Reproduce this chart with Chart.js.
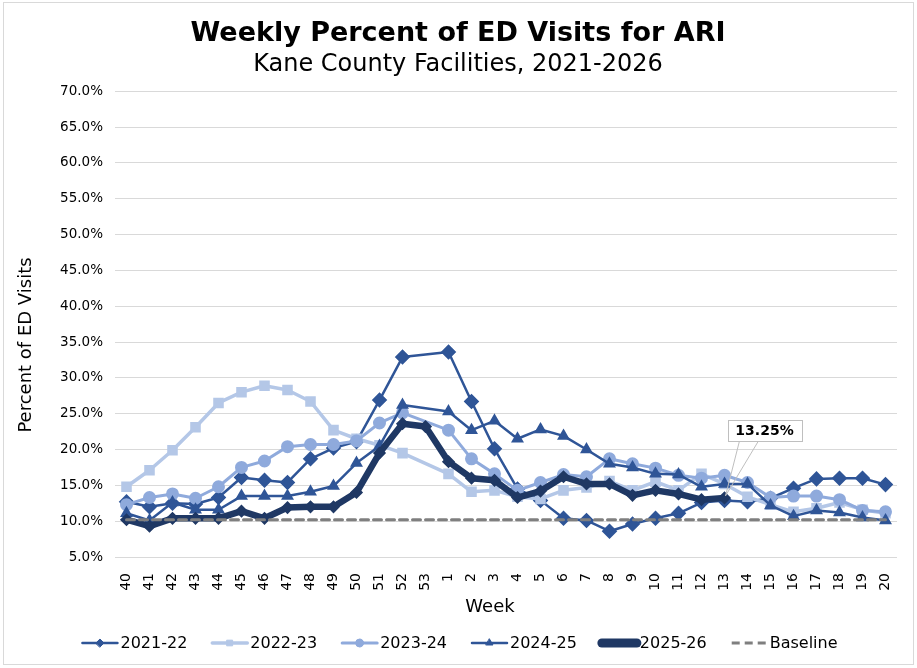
<!DOCTYPE html>
<html>
<head>
<meta charset="utf-8">
<title>Weekly Percent of ED Visits for ARI</title>
<script src="https://cdn.jsdelivr.net/npm/chart.js@4.4.1/dist/chart.umd.min.js"></script>
<style>
  html, body { margin: 0; padding: 0; background: #fff; }
  #wrap { width: 917px; height: 668px; }
</style>
</head>
<body>
<div id="wrap"><canvas id="ariChart" width="917" height="668"></canvas></div>
<script>
// MMWR weeks, season runs week 40 through week 20
const weekLabels = ['40', '41', '42', '43', '44', '45', '46', '47', '48', '49', '50', '51', '52', '53',
  '1', '2', '3', '4', '5', '6', '7', '8', '9', '10', '11', '12', '13', '14', '15', '16', '17', '18', '19', '20'];

const season2122 = [12.7, 12.0, 12.5, 12.4, 13.3, 16.1, 15.7, 15.4, 18.7, 20.2, 21.1, 26.9, 32.9, null,
  33.6, 26.7, 20.1, 14.5, 12.9, 10.4, 10.1, 8.6, 9.6, 10.4, 11.1, 12.6, 12.9, 12.7, 13.2, 14.6, 15.9, 16.0, 16.0, 15.1];
const season2223 = [14.8, 17.1, 19.9, 23.1, 26.5, 28.0, 28.9, 28.3, 26.7, 22.7, 21.5, 20.6, 19.5, null,
  16.6, 14.1, 14.3, 13.4, 13.1, 14.3, 14.7, 15.6, 14.3, 15.5, 14.3, 16.6, 15.2, 13.4, 12.3, 11.3, 11.8, 12.6, 11.6, 11.1];
const season2324 = [12.3, 13.3, 13.8, 13.2, 14.8, 17.5, 18.4, 20.4, 20.7, 20.7, 21.2, 23.7, 25.1, null,
  22.7, 18.7, 16.6, 14.3, 15.4, 16.5, 16.2, 18.7, 18.0, 17.4, 16.4, 16.0, 16.4, 15.4, 13.3, 13.5, 13.5, 13.0, 11.5, 11.3];
const season2425 = [11.1, 10.1, 12.6, 11.6, 11.6, 13.5, 13.5, 13.5, 14.1, 14.9, 18.1, 20.5, 26.2, null,
  25.3, 22.7, 24.0, 21.5, 22.8, 21.9, 20.0, 18.0, 17.5, 16.6, 16.5, 14.8, 15.2, 15.2, 12.2, 10.7, 11.5, 11.2, 10.5, 10.1];
const season2526 = [10.2, 9.3, 10.4, 10.4, 10.4, 11.4, 10.4, 11.9, 12.0, 12.0, 14.0, 19.5, 23.6, 23.2,
  18.3, 16.0, 15.7, 13.3, 14.2, 16.2, 15.2, 15.2, 13.6, 14.3, 13.8, 13.0, 13.25, null, null, null, null, null, null, null];
const baseline = [10.2, 10.2, 10.2, 10.2, 10.2, 10.2, 10.2, 10.2, 10.2, 10.2, 10.2, 10.2, 10.2, 10.2,
  10.2, 10.2, 10.2, 10.2, 10.2, 10.2, 10.2, 10.2, 10.2, 10.2, 10.2, 10.2, 10.2, 10.2, 10.2, 10.2, 10.2, 10.2, 10.2, 10.2];

const yMin = 5;
const yMax = 70;
const yStep = 5;

const FONT = "'DejaVu Sans', Verdana, sans-serif";

// outer frame like the exported Excel chart
const framePlugin = {
  id: 'frame',
  beforeDraw(chart) {
    const ctx = chart.ctx;
    ctx.save();
    ctx.fillStyle = '#fff';
    ctx.fillRect(0, 0, chart.width, chart.height);
    ctx.strokeStyle = '#d9d9d9';
    ctx.lineWidth = 1;
    ctx.strokeRect(3.5, 2.5, chart.width - 7, chart.height - 6);
    ctx.restore();
  }
};

// axis titles drawn by hand so they sit where Excel put them
const axisTitlePlugin = {
  id: 'axisTitles',
  afterDraw(chart) {
    const ctx = chart.ctx;
    ctx.save();
    ctx.fillStyle = '#000';
    ctx.font = '18px ' + FONT;
    ctx.textAlign = 'center';
    ctx.textBaseline = 'middle';
    ctx.fillText('Week', 490, 607);
    ctx.translate(26, 345);
    ctx.rotate(-Math.PI / 2);
    ctx.fillText('Percent of ED Visits', 0, 0);
    ctx.restore();
  }
};

// bottom legend: line + marker + label
const lineLegendPlugin = {
  id: 'lineLegend',
  afterDraw(chart) {
    const ctx = chart.ctx;
    const sets = chart.data.datasets;
    const lineLen = 35, textGap = 3, itemGap = 25, y = 643;
    ctx.save();
    ctx.font = '16px ' + FONT;
    ctx.textBaseline = 'middle';
    const widths = sets.map(ds => lineLen + textGap + ctx.measureText(ds.label).width);
    const total = widths.reduce((a, b) => a + b, 0) + itemGap * (sets.length - 1);
    let x = 460 - total / 2;
    sets.forEach((ds, i) => {
      ctx.strokeStyle = ds.borderColor;
      ctx.lineWidth = ds.legendLineWidth || ds.borderWidth;
      ctx.setLineDash(ds.borderDash || []);
      ctx.lineCap = ds.borderDash ? 'butt' : 'round';
      ctx.beginPath();
      ctx.moveTo(x, y);
      ctx.lineTo(x + lineLen, y);
      ctx.stroke();
      ctx.setLineDash([]);
      if (ds.pointRadius > 0) {
        ctx.fillStyle = ds.pointBackgroundColor;
        ctx.strokeStyle = ds.pointBorderColor;
        ctx.lineWidth = 1;
        Chart.helpers.drawPoint(ctx, { pointStyle: ds.pointStyle, radius: ds.legendPointRadius || 4, rotation: 0, borderWidth: 1 }, x + lineLen / 2, y);
      }
      ctx.fillStyle = '#000';
      ctx.textAlign = 'left';
      ctx.fillText(ds.label, x + lineLen + textGap, y + 1);
      x += widths[i] + itemGap;
    });
    ctx.restore();
  }
};

// callout box on the latest 2025-26 value
const calloutPlugin = {
  id: 'callout',
  afterDatasetsDraw(chart) {
    const dsIndex = chart.data.datasets.findIndex(ds => ds.label === '2025-26');
    const values = chart.data.datasets[dsIndex].data;
    let last = values.length - 1;
    while (last >= 0 && values[last] == null) last--;
    const pt = chart.getDatasetMeta(dsIndex).data[last];
    const text = values[last].toFixed(2) + '%';
    const ctx = chart.ctx;
    const boxL = pt.x + 3, boxT = pt.y - 78, boxW = 74, boxH = 21;
    ctx.save();
    ctx.strokeStyle = '#bfbfbf';
    ctx.lineWidth = 1;
    ctx.beginPath();
    ctx.moveTo(boxL + 12, boxT + boxH);
    ctx.lineTo(pt.x + 1, pt.y - 2);
    ctx.lineTo(boxL + 31, boxT + boxH);
    ctx.stroke();
    ctx.fillStyle = '#fff';
    ctx.fillRect(boxL, boxT, boxW, boxH);
    ctx.strokeRect(Math.round(boxL) + 0.5, Math.round(boxT) + 0.5, boxW, boxH);
    ctx.fillStyle = '#000';
    ctx.font = 'bold 14px ' + FONT;
    ctx.textAlign = 'center';
    ctx.textBaseline = 'middle';
    ctx.fillText(text, boxL + boxW / 2, boxT + boxH / 2 + 1);
    ctx.restore();
  }
};

const ctx = document.getElementById('ariChart').getContext('2d');

new Chart(ctx, {
  type: 'line',
  data: {
    labels: weekLabels,
    datasets: [
      {
        label: '2021-22', data: season2122, order: 5,
        borderColor: '#2F5597', backgroundColor: '#2F5597', borderWidth: 2.5,
        pointStyle: 'rectRot', pointRadius: 6, pointBackgroundColor: '#2F5597', pointBorderColor: '#2F5597'
      },
      {
        label: '2022-23', data: season2223, order: 4,
        borderColor: '#B4C7E7', backgroundColor: '#B4C7E7', borderWidth: 3.5,
        pointStyle: 'rect', pointRadius: 5, pointBackgroundColor: '#B4C7E7', pointBorderColor: '#B4C7E7'
      },
      {
        label: '2023-24', data: season2324, order: 3,
        borderColor: '#8FAADC', backgroundColor: '#8FAADC', borderWidth: 3,
        pointStyle: 'circle', pointRadius: 5, pointBackgroundColor: '#8FAADC', pointBorderColor: '#8FAADC'
      },
      {
        label: '2024-25', data: season2425, order: 2,
        borderColor: '#2F5597', backgroundColor: '#2F5597', borderWidth: 2.5,
        pointStyle: 'triangle', pointRadius: 5, pointBackgroundColor: '#2F5597', pointBorderColor: '#2F5597'
      },
      {
        label: '2025-26', data: season2526, order: 1,
        borderColor: '#1F3864', backgroundColor: '#1F3864', borderWidth: 6.5, legendLineWidth: 9, legendPointRadius: 2,
        pointStyle: 'rectRot', pointRadius: 2, pointBackgroundColor: '#1F3864', pointBorderColor: '#1F3864'
      },
      {
        label: 'Baseline', data: baseline, order: 0,
        borderColor: '#7F7F7F', backgroundColor: '#7F7F7F', borderWidth: 3, borderDash: [8, 5],
        pointRadius: 0
      }
    ]
  },
  options: {
    responsive: false,
    animation: false,
    spanGaps: true,
    layout: { padding: { left: 19, right: 20, top: 0, bottom: 71 } },
    elements: { line: { tension: 0, borderJoinStyle: 'round', borderCapStyle: 'round' } },
    plugins: {
      legend: { display: false },
      tooltip: { enabled: false },
      title: {
        display: true,
        text: 'Weekly Percent of ED Visits for ARI',
        color: '#000',
        font: { family: FONT, size: 27, weight: 'bold', lineHeight: 1.2 },
        padding: { top: 18, bottom: 0 }
      },
      subtitle: {
        display: true,
        text: 'Kane County Facilities, 2021-2026',
        color: '#000',
        font: { family: FONT, size: 24, lineHeight: 1.2 },
        padding: { top: 0, bottom: 12 }
      }
    },
    scales: {
      x: {
        offset: true,
        grid: { display: false, offset: true },
        border: { display: false },
        ticks: {
          color: '#000', font: { family: FONT, size: 14 },
          minRotation: 90, maxRotation: 90, autoSkip: false, padding: 8
        },
        afterFit(scale) { scale.height = 40; }
      },
      y: {
        min: yMin, max: yMax,
        grid: { color: '#d9d9d9', lineWidth: 1, drawTicks: false },
        border: { display: false },
        ticks: {
          stepSize: yStep, color: '#000', font: { family: FONT, size: 13.5 }, padding: 12,
          callback: v => v.toFixed(1) + '%'
        },
        afterFit(scale) { scale.width = 96; }
      }
    }
  },
  plugins: [framePlugin, axisTitlePlugin, lineLegendPlugin, calloutPlugin]
});
</script>
</body>
</html>
